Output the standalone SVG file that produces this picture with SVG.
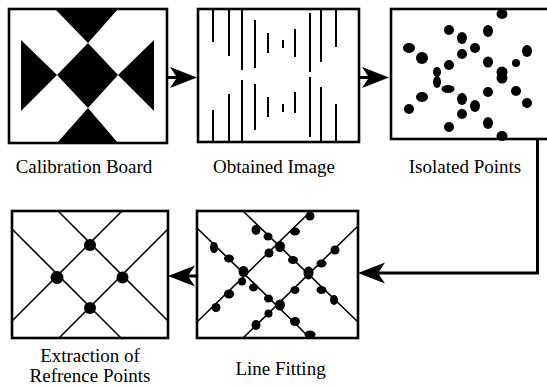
<svg xmlns="http://www.w3.org/2000/svg" width="547" height="387" viewBox="0 0 547 387">
<style>
.box{fill:#fff;stroke:#000;stroke-width:2.6}
.ink{fill:#000}
.vl{stroke:#000;stroke-width:2;stroke-linecap:butt}
.ln{stroke:#000;stroke-width:1.6;fill:none}
.conn{stroke:#000;stroke-width:3;fill:none}
.lbl{font-family:"Liberation Serif","Times New Roman",serif;font-size:19px;fill:#000;text-anchor:middle}
</style>
<defs>
<marker id="arr" markerUnits="userSpaceOnUse" markerWidth="30" markerHeight="24" viewBox="-13 -12 30 24" refX="0" refY="0" orient="auto" overflow="visible">
<path d="M15,0 L-12,-10.5 L-5,0 L-12,10.5 Z" fill="#000"/>
</marker>
</defs>

<g id="node-calibration-board">
<rect class="box" x="9" y="9" width="158" height="134"/>
<polygon class="ink" points="55,9 118,9 88,43"/>
<polygon class="ink" points="21,40 21,111 57,75"/>
<polygon class="ink" points="154,40 154,111 118,75"/>
<polygon class="ink" points="88,43 118,75 88,108 57,75"/>
<polygon class="ink" points="57,143 118,143 88,108"/>
<text class="lbl" x="84" y="173">Calibration Board</text>
</g>

<g id="node-obtained-image">
<rect class="box" x="198" y="9" width="161" height="133"/>
<line class="vl" x1="213" y1="9" x2="213" y2="42"/><line class="vl" x1="213" y1="110" x2="213" y2="142"/>
<line class="vl" x1="229" y1="9" x2="229" y2="56"/><line class="vl" x1="229" y1="94" x2="229" y2="142"/>
<line class="vl" x1="242" y1="9" x2="242" y2="70"/><line class="vl" x1="242" y1="80" x2="242" y2="142"/>
<line class="vl" x1="255" y1="20" x2="255" y2="68"/><line class="vl" x1="255" y1="84" x2="255" y2="130"/>
<line class="vl" x1="268" y1="33" x2="268" y2="53"/><line class="vl" x1="268" y1="97" x2="268" y2="117"/>
<line class="vl" x1="283" y1="40" x2="283" y2="48"/><line class="vl" x1="283" y1="104" x2="283" y2="112"/>
<line class="vl" x1="295" y1="29" x2="295" y2="57"/><line class="vl" x1="295" y1="92" x2="295" y2="113"/>
<line class="vl" x1="310" y1="13" x2="310" y2="72"/><line class="vl" x1="310" y1="77" x2="310" y2="137"/>
<line class="vl" x1="321" y1="9" x2="321" y2="62"/><line class="vl" x1="321" y1="87" x2="321" y2="142"/>
<line class="vl" x1="336" y1="9" x2="336" y2="47"/><line class="vl" x1="336" y1="104" x2="336" y2="142"/>
<text class="lbl" x="274" y="173">Obtained Image</text>
</g>

<g id="node-isolated-points">
<rect class="box" x="391" y="9" width="160" height="130"/>
<g class="ink">
<ellipse cx="502" cy="14" rx="5.5" ry="5"/>
<ellipse cx="449" cy="30" rx="5" ry="5"/>
<ellipse cx="462" cy="38" rx="5" ry="6"/>
<ellipse cx="488" cy="31" rx="5" ry="6"/>
<ellipse cx="409" cy="48" rx="6" ry="5"/>
<ellipse cx="422" cy="58" rx="6" ry="6"/>
<ellipse cx="462" cy="54" rx="5" ry="5"/>
<ellipse cx="475" cy="48" rx="5" ry="5"/>
<ellipse cx="527" cy="51" rx="5" ry="6"/>
<ellipse cx="449" cy="65" rx="5" ry="5"/>
<ellipse cx="488" cy="62" rx="5" ry="5.5"/>
<ellipse cx="437" cy="72" rx="4" ry="5"/>
<ellipse cx="437" cy="82" rx="4" ry="6"/>
<ellipse cx="502" cy="72" rx="5.5" ry="5.5"/>
<ellipse cx="502" cy="78" rx="5.5" ry="5.5"/>
<ellipse cx="516" cy="63" rx="4" ry="4"/>
<ellipse cx="448" cy="89" rx="6.5" ry="4"/>
<ellipse cx="422" cy="97" rx="6" ry="5"/>
<ellipse cx="488" cy="92" rx="5" ry="5"/>
<ellipse cx="516" cy="91" rx="5" ry="5"/>
<ellipse cx="527" cy="103" rx="5" ry="5"/>
<ellipse cx="409" cy="109" rx="5" ry="5"/>
<ellipse cx="462" cy="99" rx="5" ry="6"/>
<ellipse cx="475" cy="106" rx="5" ry="6"/>
<ellipse cx="462" cy="114" rx="5" ry="5"/>
<ellipse cx="449" cy="127" rx="5" ry="5"/>
<ellipse cx="488" cy="123" rx="5" ry="6"/>
<ellipse cx="502" cy="136" rx="5.5" ry="5"/>
</g>
<text class="lbl" x="465" y="173">Isolated Points</text>
</g>

<g id="node-line-fitting">
<rect class="box" x="197" y="211" width="161" height="127"/>
<line class="ln" x1="197" y1="228" x2="310" y2="338"/>
<line class="ln" x1="243" y1="211" x2="358" y2="322"/>
<line class="ln" x1="197" y1="322" x2="311" y2="211"/>
<line class="ln" x1="243" y1="338" x2="358" y2="226"/>
<g class="ink">
<ellipse cx="310" cy="216" rx="4.5" ry="4.5"/>
<ellipse cx="256" cy="230" rx="4.5" ry="5"/>
<ellipse cx="295" cy="231.5" rx="5" ry="4"/>
<ellipse cx="268" cy="236.5" rx="4.5" ry="4"/>
<ellipse cx="280" cy="246.5" rx="5" ry="5.5"/>
<ellipse cx="214" cy="247.5" rx="4" ry="5.5"/>
<ellipse cx="335" cy="250" rx="4.5" ry="4.5"/>
<ellipse cx="269" cy="253" rx="4.5" ry="4.5"/>
<ellipse cx="229" cy="258.5" rx="5" ry="4"/>
<ellipse cx="293" cy="260" rx="5" ry="4"/>
<ellipse cx="321.5" cy="263.5" rx="5" ry="4"/>
<ellipse cx="243.5" cy="271.5" rx="5" ry="5.5"/>
<ellipse cx="308.5" cy="273" rx="5" ry="6.5"/>
<ellipse cx="242" cy="281.5" rx="4" ry="4"/>
<ellipse cx="253.5" cy="287.5" rx="4.5" ry="4"/>
<ellipse cx="321.5" cy="290" rx="5" ry="4"/>
<ellipse cx="229" cy="294" rx="5" ry="4.5"/>
<ellipse cx="268.5" cy="298.5" rx="4.5" ry="4"/>
<ellipse cx="295" cy="290" rx="4.5" ry="4"/>
<ellipse cx="334" cy="300" rx="4" ry="5"/>
<ellipse cx="280" cy="305" rx="5" ry="5.5"/>
<ellipse cx="216" cy="307.5" rx="4.5" ry="4.5"/>
<ellipse cx="268.5" cy="313.5" rx="4" ry="4"/>
<ellipse cx="295" cy="321.5" rx="5" ry="4.5"/>
<ellipse cx="256" cy="325" rx="4.5" ry="5"/>
<ellipse cx="310" cy="334.5" rx="5.5" ry="4"/>
</g>
<text class="lbl" x="280.5" y="375">Line Fitting</text>
</g>

<g id="node-extraction">
<rect class="box" x="12" y="211" width="156" height="127"/>
<line class="ln" x1="12" y1="229" x2="121" y2="338"/>
<line class="ln" x1="58" y1="211" x2="168" y2="321"/>
<line class="ln" x1="12" y1="321" x2="122" y2="211"/>
<line class="ln" x1="59" y1="338" x2="168" y2="229"/>
<g class="ink">
<circle cx="90" cy="245" r="6"/>
<circle cx="57" cy="277.5" r="6.5"/>
<circle cx="122.5" cy="277.5" r="6"/>
<circle cx="90" cy="308" r="6"/>
</g>
<text class="lbl" x="90" y="362">Extraction of</text>
<text class="lbl" x="90" y="382">Refrence Points</text>
</g>

<g id="connectors">
<path class="conn" d="M167,77.5 L182,77.5" marker-end="url(#arr)"/>
<path class="conn" d="M359,77.5 L374,77.5" marker-end="url(#arr)"/>
<path class="conn" d="M537.5,139 L537.5,273 L373,273" marker-end="url(#arr)"/>
<path class="conn" d="M198,276 L183,276" marker-end="url(#arr)"/>
</g>
</svg>
